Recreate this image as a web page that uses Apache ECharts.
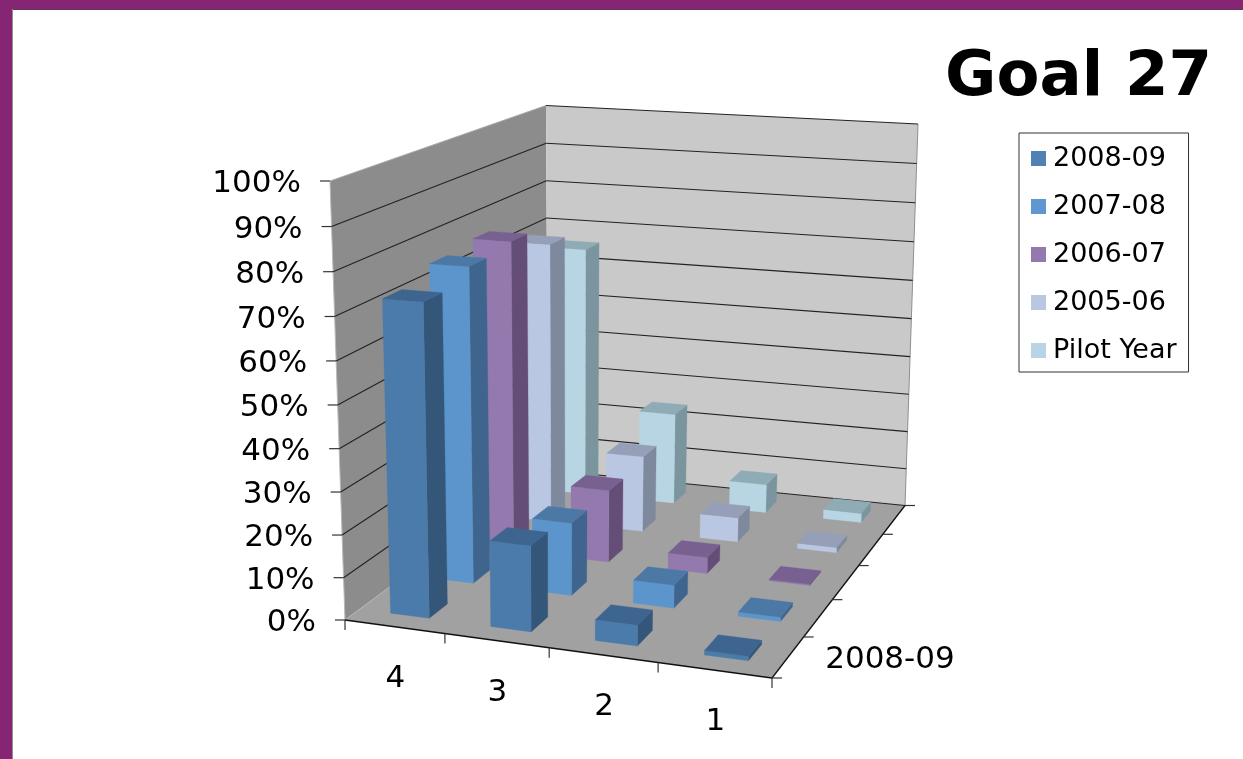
<!DOCTYPE html>
<html><head><meta charset="utf-8">
<style>html,body{margin:0;padding:0;background:#fff}#c{width:1243px;height:759px}</style>
<script src="https://cdn.jsdelivr.net/npm/echarts@6/dist/echarts.min.js"></script>
</head><body><div id="c"></div>
<script>
const categories = ['4','3','2','1'];
const seriesNames = ['2008-09','2007-08','2006-07','2005-06','Pilot Year'];
const values0809 = [73,20,4.8,1];
const values0708 = [76,17.5,5.5,1];
const values0607 = [77.2,18,4,0.3];
const values0506 = [71.8,19.5,6.2,1.3];
const valuesPilot = [65.8,24,7.5,2.4];
const valueTicks = [0,10,20,30,40,50,60,70,80,90,100];
const allValues = [values0809,values0708,values0607,values0506,valuesPilot];

const palette = [
 {front:'#4a7bab',side:'#345679',top:'#3d6590',legend:'#4f81b4'},
 {front:'#5b95cb',side:'#3f658e',top:'#4c78a6',legend:'#5f98d0'},
 {front:'#9379ae',side:'#644e78',top:'#786090',legend:'#9379ae'},
 {front:'#b9c7e2',side:'#7e899d',top:'#95a0b8',legend:'#b9c7e2'},
 {front:'#b7d5e3',side:'#7b959f',top:'#8fabb5',legend:'#b7d5e3'}
];

// projection of the chart box on screen
function homography(p){
  const [a,b,c,d]=p; // (0,0),(1,0),(1,1),(0,1)
  const dx1=b[0]-c[0],dx2=d[0]-c[0],sx=a[0]-b[0]+c[0]-d[0];
  const dy1=b[1]-c[1],dy2=d[1]-c[1],sy=a[1]-b[1]+c[1]-d[1];
  const den=dx1*dy2-dx2*dy1;
  const g=(sx*dy2-dx2*sy)/den,h=(dx1*sy-sx*dy1)/den;
  const A=b[0]-a[0]+g*b[0],B=d[0]-a[0]+h*d[0],C=a[0];
  const D=b[1]-a[1]+g*b[1],E=d[1]-a[1]+h*d[1],F=a[1];
  return (u,v)=>{const w=g*u+h*v+1;return [(A*u+B*v+C)/w,(D*u+E*v+F)/w];};
}
const floorMap=homography([[345,620],[772,678],[905,505.5],[548,470]]);
const ceilMap=homography([[330,181],[780,208],[918,124],[546,105.5]]);
const persp=0.96;
function pt(u,v,z){
  const f=floorMap(u,v),c=ceilMap(u,v);
  const t=persp*z/((1-z)+persp*z);
  return [f[0]+(c[0]-f[0])*t,f[1]+(c[1]-f[1])*t];
}
const rows=seriesNames.length, BAR_W=0.098, BAR_D=0.08, BAR_SHIFT=0.003;

function barRender(row){
  return function(params,api){
    const sys=params.coordSys;
    const pos=api.coord([api.value(0),api.value(1)]);
    const u=(pos[0]-sys.x)/sys.width+BAR_SHIFT;
    const z=(sys.y+sys.height-pos[1])/sys.height;
    const v=(row+0.5)/rows;
    const x0=u-BAR_W/2,x1=u+BAR_W/2,y0=v-BAR_D/2,y1=v+BAR_D/2;
    const col=palette[row];
    const poly=(pts,fill)=>({type:'polygon',shape:{points:pts},style:{fill:fill,stroke:fill,lineWidth:0.3}});
    return {type:'group',children:[
      poly([pt(x1,y0,0),pt(x1,y1,0),pt(x1,y1,z),pt(x1,y0,z)],col.side),
      poly([pt(x0,y0,0),pt(x1,y0,0),pt(x1,y0,z),pt(x0,y0,z)],col.front),
      poly([pt(x0,y0,z),pt(x1,y0,z),pt(x1,y1,z),pt(x0,y1,z)],col.top)
    ]};
  };
}
const FONT='31px "DejaVu Sans"';
function line(a,b,color,w){return {type:'line',shape:{x1:a[0],y1:a[1],x2:b[0],y2:b[1]},style:{stroke:color||'#111',lineWidth:w||1.2}};}
function txt(s,x,y,align){return {type:'text',style:{text:s,x:x,y:y,fill:'#000',font:FONT,textAlign:align,textVerticalAlign:'middle'}};}

function frameRender(params,api){
  if(params.dataIndex>0) return null;
  const ch=[];
  const poly=(pts,fill)=>ch.push({type:'polygon',shape:{points:pts},style:{fill:fill}});
  poly([pt(0,0,0),pt(0,1,0),pt(0,1,1),pt(0,0,1)],'#8c8c8c');
  poly([pt(0,1,0),pt(1,1,0),pt(1,1,1),pt(0,1,1)],'#c9c9c9');
  poly([pt(0,0,0),pt(1,0,0),pt(1,1,0),pt(0,1,0)],'#a1a1a1');
  ch.push(line(pt(0,0,0),pt(0,0,1),'#b8b8b8',1));
  ch.push(line(pt(0,0,1),pt(0,1,1),'#aaaaaa',1));
  ch.push(line(pt(1,1,0),pt(1,1,1),'#8f8f8f',1));
  ch.push(line(pt(0,0,0),pt(0,1,0),'#b5b5b5',1));
  valueTicks.forEach((t,i)=>{
    const z=t/100;
    const a=pt(0,0,z),b=pt(0,1,z),c=pt(1,1,z);
    if(i>0&&i<valueTicks.length-1){ ch.push(line(a,b,'#222',1.1)); }
    ch.push(line(b,c,'#222',1.1));
    ch.push(line([a[0]-10,a[1]],a,'#333',1.2));
    ch.push(txt(t+'%',a[0]-29,a[1]+3,'right'));
  });
  ch.push(line(pt(0,0,0),pt(1,0,0),'#111',1.3));
  ch.push(line(pt(1,0,0),pt(1,1,0),'#111',1.3));
  for(let i=0;i<=categories.length;i++){
    const a=pt(i/categories.length,0,0);
    ch.push(line(a,[a[0],a[1]+10],'#333',1.2));
    if(i<categories.length){
      const m=pt((i+0.5)/categories.length,0,0);
      ch.push(txt(categories[i],m[0]+1,m[1]+52,'center'));
    }
  }
  for(let i=0;i<=rows;i++){
    const a=pt(1,i/rows,0);
    ch.push(line(a,[a[0]+10,a[1]],'#333',1.2));
  }
  const m=pt(1,0.5/rows,0);
  ch.push(txt(seriesNames[0],m[0]+37,m[1]+3,'left'));
  return {type:'group',children:ch};
}

const series=[{type:'custom',name:'frame',coordinateSystem:'cartesian2d',renderItem:frameRender,
  data:[[0,0]],silent:true,z:1}];
for(let r=rows-1;r>=0;r--){
  const data=[];
  for(let c=categories.length-1;c>=0;c--) data.push([categories[c],allValues[r][c]]);
  series.push({type:'custom',name:seriesNames[r],coordinateSystem:'cartesian2d',renderItem:barRender(r),
    data:data,encode:{x:0,y:1},itemStyle:{color:palette[r].legend},z:2});
}

const chart=echarts.init(document.getElementById('c'),null,{renderer:'canvas'});
chart.setOption({
  animation:false,backgroundColor:'#fff',
  graphic:[
    {type:'rect',z:0,shape:{x:0,y:0,width:1243,height:9},style:{fill:'#862573'}},
    {type:'rect',z:0,shape:{x:0,y:0,width:12,height:759},style:{fill:'#862573'}},
    {type:'rect',z:0,shape:{x:12,y:9,width:1231,height:1},style:{fill:'#5d3a58'}},
    {type:'rect',z:0,shape:{x:12,y:9,width:1,height:750},style:{fill:'#8f8f8f'}}
  ],
  title:{text:'Goal 27',right:31,top:47,padding:0,textStyle:{fontFamily:'"DejaVu Sans"',fontWeight:'bold',fontSize:62.6,color:'#000'}},
  legend:{data:seriesNames,orient:'vertical',left:1019,top:133,icon:'rect',itemWidth:15,itemHeight:15,itemGap:21,
    padding:[12,12,8,12],borderColor:'#333',borderWidth:1,backgroundColor:'#fff',selectedMode:false,
    textStyle:{fontFamily:'"DejaVu Sans"',fontSize:27,color:'#000',padding:[0,0,0,2]}},
  tooltip:{show:false},
  grid:{left:0,top:0,width:1000,height:500,containLabel:false},
  xAxis:{type:'category',data:categories,show:false},
  yAxis:{type:'value',min:0,max:100,interval:10,show:false},
  series:series
});
</script></body></html>
